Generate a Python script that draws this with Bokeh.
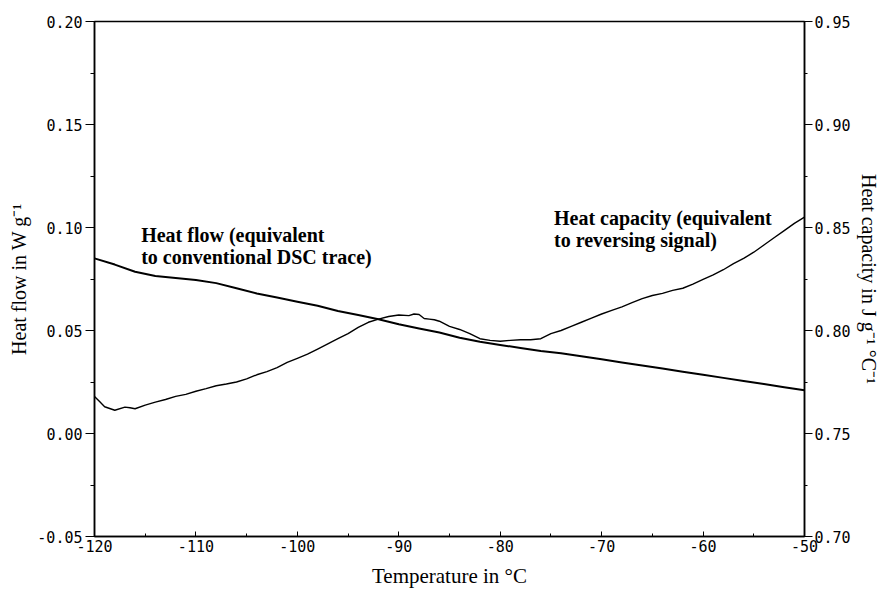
from bokeh.plotting import figure
from bokeh.models import Range1d, LinearAxis, FixedTicker, PrintfTickFormatter, Label
from bokeh.embed import file_html
from bokeh.resources import INLINE

# ---- data ----
temp_hf = [-120, -118, -116, -114, -112, -110, -108, -106, -104, -102, -100, -98, -96, -94,
           -92, -90, -88, -86, -84, -82, -80, -78, -76, -74, -72, -70, -68, -66, -64, -62,
           -60, -58, -56, -54, -52, -50]
heat_flow = [0.085, 0.082, 0.0785, 0.0765, 0.0755, 0.0745, 0.073, 0.0705, 0.068, 0.066, 0.064,
             0.062, 0.0595, 0.0575, 0.0555, 0.053, 0.051, 0.049, 0.0465, 0.0445, 0.043, 0.0415,
             0.040, 0.039, 0.0375, 0.036, 0.0345, 0.033, 0.0315, 0.030, 0.0285, 0.027, 0.0255,
             0.024, 0.0225, 0.021]

temp_cp = [-120, -119.5, -119, -118, -117, -116.5, -116,
           -115, -114, -113, -112, -111, -110, -109, -108, -107, -106, -105, -104, -103, -102,
           -101, -100, -99, -98, -97, -96, -95, -94, -93, -92, -91, -90, -89,
           -88.5, -88, -87.5, -87, -86.5, -86,
           -85, -84, -83, -82, -81, -80, -79, -78, -77, -76, -75, -74, -73, -72, -71, -70,
           -69, -68, -67, -66, -65, -64, -63, -62, -61, -60, -59, -58, -57, -56, -55, -54,
           -53, -52, -51, -50]
heat_capacity = [0.768, 0.7655, 0.763, 0.7613, 0.7628, 0.7625, 0.762,
                 0.7638, 0.7652, 0.7665, 0.768, 0.769, 0.7705, 0.7718, 0.7732, 0.774, 0.775,
                 0.7765, 0.7785, 0.780, 0.782, 0.7845, 0.7865, 0.7885, 0.791, 0.7935, 0.796,
                 0.7985, 0.8015, 0.804, 0.8055, 0.8068, 0.8075, 0.8072,
                 0.808, 0.8078, 0.8058, 0.8055, 0.8052, 0.8045,
                 0.802, 0.8005, 0.7985, 0.796, 0.7952, 0.7948, 0.7952, 0.7955, 0.7955, 0.796,
                 0.7985, 0.800, 0.802, 0.804, 0.806, 0.808, 0.8098, 0.8115, 0.8135, 0.8155,
                 0.817, 0.818, 0.8195, 0.8205, 0.8225, 0.8248, 0.827, 0.8295, 0.8325, 0.835,
                 0.838, 0.8415, 0.845, 0.8485, 0.852, 0.855]

x_ticks = [-120, -110, -100, -90, -80, -70, -60, -50]
x_minor = [-115, -105, -95, -85, -75, -65, -55]
hf_ticks = [-0.05, 0.0, 0.05, 0.10, 0.15, 0.20]
hf_minor = [-0.025, 0.025, 0.075, 0.125, 0.175]
cp_ticks = [0.70, 0.75, 0.80, 0.85, 0.90, 0.95]
cp_minor = [0.725, 0.775, 0.825, 0.875, 0.925]

label_hf = "Heat flow (equivalent\nto conventional DSC trace)"
label_cp = "Heat capacity (equivalent\nto reversing signal)"
x_title = "Temperature in °C"
y_title = "Heat flow in W g\u207b\u00b9"
y2_title = "Heat capacity in J g\u207b\u00b9 °C\u207b\u00b9"

# ---- figure ----
p = figure(width=882, height=590, output_backend="svg", toolbar_location=None,
           x_range=Range1d(-120, -50), y_range=Range1d(-0.05, 0.20),
           min_border_left=94, min_border_right=78, min_border_top=21, min_border_bottom=54)
p.extra_y_ranges = {"cp": Range1d(0.70, 0.95)}
p.xgrid.visible = False
p.ygrid.visible = False
p.outline_line_color = "black"
p.outline_line_width = 1.5
p.background_fill_color = "white"
p.border_fill_color = "white"

tick_font = "DejaVu Sans Mono"
serif = "Liberation Serif"

xa = p.xaxis[0]
xa.ticker = FixedTicker(ticks=x_ticks, minor_ticks=x_minor)
xa.formatter = PrintfTickFormatter(format="%d")
xa.major_tick_in = 5
xa.major_tick_out = 0
xa.minor_tick_in = 3
xa.minor_tick_out = 0
xa.major_label_standoff = 3
xa.axis_label = x_title
xa.axis_label_standoff = 9

ya = p.yaxis[0]
ya.ticker = FixedTicker(ticks=hf_ticks, minor_ticks=hf_minor)
ya.formatter = PrintfTickFormatter(format="%.2f")
ya.major_tick_in = 0
ya.major_tick_out = 9
ya.minor_tick_in = 0
ya.minor_tick_out = 4
ya.major_label_standoff = 3
ya.axis_label = y_title
ya.axis_label_standoff = 4

ra = LinearAxis(y_range_name="cp")
ra.ticker = FixedTicker(ticks=cp_ticks, minor_ticks=cp_minor)
ra.formatter = PrintfTickFormatter(format="%.2f")
ra.major_tick_in = 0
ra.major_tick_out = 8
ra.minor_tick_in = 0
ra.minor_tick_out = 3
ra.major_label_standoff = 2
ra.axis_label = y2_title
ra.axis_label_standoff = 4
p.add_layout(ra, "right")

for ax in (xa, ya, ra):
    ax.axis_line_color = "black"
    ax.axis_line_width = 1.5
    ax.major_tick_line_color = "black"
    ax.minor_tick_line_color = "black"
    ax.major_label_text_font = tick_font
    ax.major_label_text_font_size = "15px"
    ax.major_label_text_color = "black"
    ax.axis_label_text_font = serif
    ax.axis_label_text_font_style = "normal"
    ax.axis_label_text_font_size = "20px"
    ax.axis_label_text_color = "black"

xa.axis_label_text_font_size = "21px"

p.line(temp_hf, heat_flow, line_color="black", line_width=2)
p.line(temp_cp, heat_capacity, line_color="black", line_width=1.4, y_range_name="cp")

p.add_layout(Label(x=-115.4, y=0.1018, text=label_hf, text_font=serif,
                   text_font_style="bold", text_font_size="20px", text_baseline="top",
                   text_line_height=1.0, text_color="black"))
p.add_layout(Label(x=-74.7, y=0.1100, text=label_cp, text_font=serif,
                   text_font_style="bold", text_font_size="20px", text_baseline="top",
                   text_line_height=1.0, text_color="black"))

open("out.html", "w").write(file_html(p, INLINE))
